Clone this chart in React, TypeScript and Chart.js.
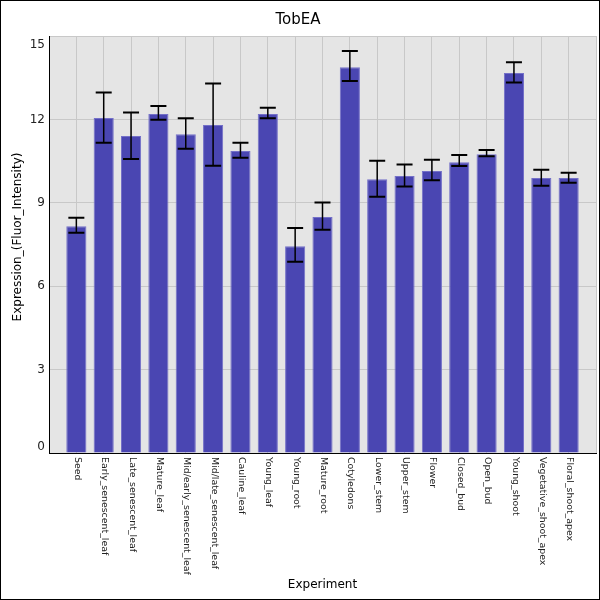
import { useEffect, useRef } from 'react';
import { Chart, registerables } from 'chart.js';

Chart.register(...registerables);

const title = 'TobEA';
const xTitle = 'Experiment';
const yTitle = 'Expression_(Fluor_Intensity)';

const categories = [
  'Seed',
  'Early_senescent_leaf',
  'Late_senescent_leaf',
  'Mature_leaf',
  'Mid/early_senescent_leaf',
  'Mid/late_senescent_leaf',
  'Cauline_leaf',
  'Young_leaf',
  'Young_root',
  'Mature_root',
  'Cotyledons',
  'Lower_stem',
  'Upper_stem',
  'Flower',
  'Closed_bud',
  'Open_bud',
  'Young_shoot',
  'Vegetative_shoot_apex',
  'Floral_shoot_apex',
];

const means = [8.16, 12.05, 11.4, 12.19, 11.47, 11.8, 10.86, 12.19, 7.44, 8.49, 13.88, 9.85, 9.96, 10.14, 10.46, 10.75, 13.67, 9.89, 9.89];
const errLow = [7.92, 11.16, 10.58, 11.99, 10.94, 10.33, 10.62, 12.04, 6.88, 8.03, 13.38, 9.22, 9.59, 9.81, 10.32, 10.67, 13.33, 9.61, 9.72];
const errHigh = [8.46, 12.97, 12.25, 12.48, 12.04, 13.29, 11.16, 12.42, 8.09, 9.01, 14.46, 10.51, 10.38, 10.55, 10.72, 10.9, 14.06, 10.19, 10.08];

const yTicks = [0, 3, 6, 9, 12, 15];

const FONT = '"DejaVu Sans", sans-serif';

// the reference leaves a whole empty slot on each side, so pad the labels
const paddedLabels = ['', ...categories, ''];
const paddedMeans = [null, ...means, null];

const decorPlugin = {
  id: 'decor',
  beforeDraw(chart: any) {
    const { ctx, chartArea } = chart;
    ctx.save();
    ctx.fillStyle = '#e5e5e5';
    ctx.fillRect(chartArea.left, chartArea.top, chartArea.right - chartArea.left, chartArea.bottom - chartArea.top);
    ctx.restore();
  },
  afterDatasetsDraw(chart: any) {
    const { ctx } = chart;
    const xs = chart.scales.x;
    const ys = chart.scales.y;
    ctx.save();
    ctx.strokeStyle = '#000';
    means.forEach((_, i) => {
      const x = xs.getPixelForValue(i + 1);
      const yHi = ys.getPixelForValue(errHigh[i]);
      const yLo = ys.getPixelForValue(errLow[i]);
      ctx.lineWidth = 1.5;
      ctx.beginPath();
      ctx.moveTo(x, yHi);
      ctx.lineTo(x, yLo);
      ctx.stroke();
      ctx.lineWidth = 2;
      ctx.beginPath();
      ctx.moveTo(x - 8, yHi);
      ctx.lineTo(x + 8, yHi);
      ctx.moveTo(x - 8, yLo);
      ctx.lineTo(x + 8, yLo);
      ctx.stroke();
    });
    ctx.restore();
  },
  afterDraw(chart: any) {
    const { ctx, chartArea } = chart;
    const xs = chart.scales.x;
    const ys = chart.scales.y;
    ctx.save();

    // title
    ctx.fillStyle = '#000';
    ctx.font = `15px ${FONT}`;
    ctx.textAlign = 'center';
    ctx.textBaseline = 'middle';
    ctx.fillText(title, 297, 19);

    // y tick labels, kept inside the plot's height
    ctx.font = `12px ${FONT}`;
    ctx.fillStyle = '#222';
    ctx.textAlign = 'right';
    yTicks.forEach((v) => {
      let y = ys.getPixelForValue(v);
      y = Math.min(Math.max(y, chartArea.top + 9), chartArea.bottom - 6);
      ctx.fillText(String(v), chartArea.left - 4, y);
    });

    // x tick labels, turned clockwise
    ctx.font = `9.4px ${FONT}`;
    ctx.textAlign = 'left';
    categories.forEach((c, i) => {
      const x = xs.getPixelForValue(i + 1);
      ctx.save();
      ctx.translate(x + 1, chartArea.bottom + 4);
      ctx.rotate(Math.PI / 2);
      ctx.fillText(c, 0, 0);
      ctx.restore();
    });

    // axis titles
    ctx.fillStyle = '#000';
    ctx.font = `12px ${FONT}`;
    ctx.textAlign = 'center';
    ctx.fillText(xTitle, (chartArea.left + chartArea.right) / 2, 584);
    ctx.save();
    ctx.translate(17, 236);
    ctx.rotate(-Math.PI / 2);
    ctx.fillText(yTitle, 0, 0);
    ctx.restore();

    ctx.restore();
  },
};

function ExpressionBarChart() {
  const canvasRef = useRef<HTMLCanvasElement | null>(null);
  const chartRef = useRef<Chart | null>(null);

  useEffect(() => {
    document.body.style.margin = '0';
    const canvas = canvasRef.current;
    if (!canvas) return;

    chartRef.current = new Chart(canvas, {
      type: 'bar',
      data: {
        labels: paddedLabels,
        datasets: [
          {
            label: title,
            data: paddedMeans,
            backgroundColor: '#4a46b2',
            borderColor: '#7470c8',
            borderWidth: 1,
            categoryPercentage: 0.8,
            barPercentage: 0.92,
          },
        ],
      },
      options: {
        responsive: false,
        animation: false,
        devicePixelRatio: 1,
        layout: { padding: { top: 35, right: 3, left: 0, bottom: 0 } },
        plugins: {
          legend: { display: false },
          title: { display: false },
          tooltip: { enabled: false },
        },
        scales: {
          x: {
            type: 'category',
            offset: false,
            grid: { offset: false, color: '#c8c8c8', drawTicks: false },
            border: { display: true, color: '#000', width: 1 },
            ticks: { display: false },
            afterFit: (scale: any) => {
              scale.height = 146;
            },
          },
          y: {
            min: 0,
            max: 15,
            grid: { color: '#c8c8c8', drawTicks: false },
            border: { display: true, color: '#000', width: 1 },
            ticks: { display: false, stepSize: 3 },
            afterFit: (scale: any) => {
              scale.width = 48;
            },
          },
        },
      },
      plugins: [decorPlugin],
    });

    return () => {
      if (chartRef.current) {
        chartRef.current.destroy();
        chartRef.current = null;
      }
    };
  }, []);

  return (
    <div style={{ width: 600, height: 600, border: '1px solid #000', boxSizing: 'border-box', background: '#fff' }}>
      <canvas ref={canvasRef} width={598} height={598} style={{ display: 'block', width: 598, height: 598 }} />
    </div>
  );
}

export default function App() {
  return <ExpressionBarChart />;
}
